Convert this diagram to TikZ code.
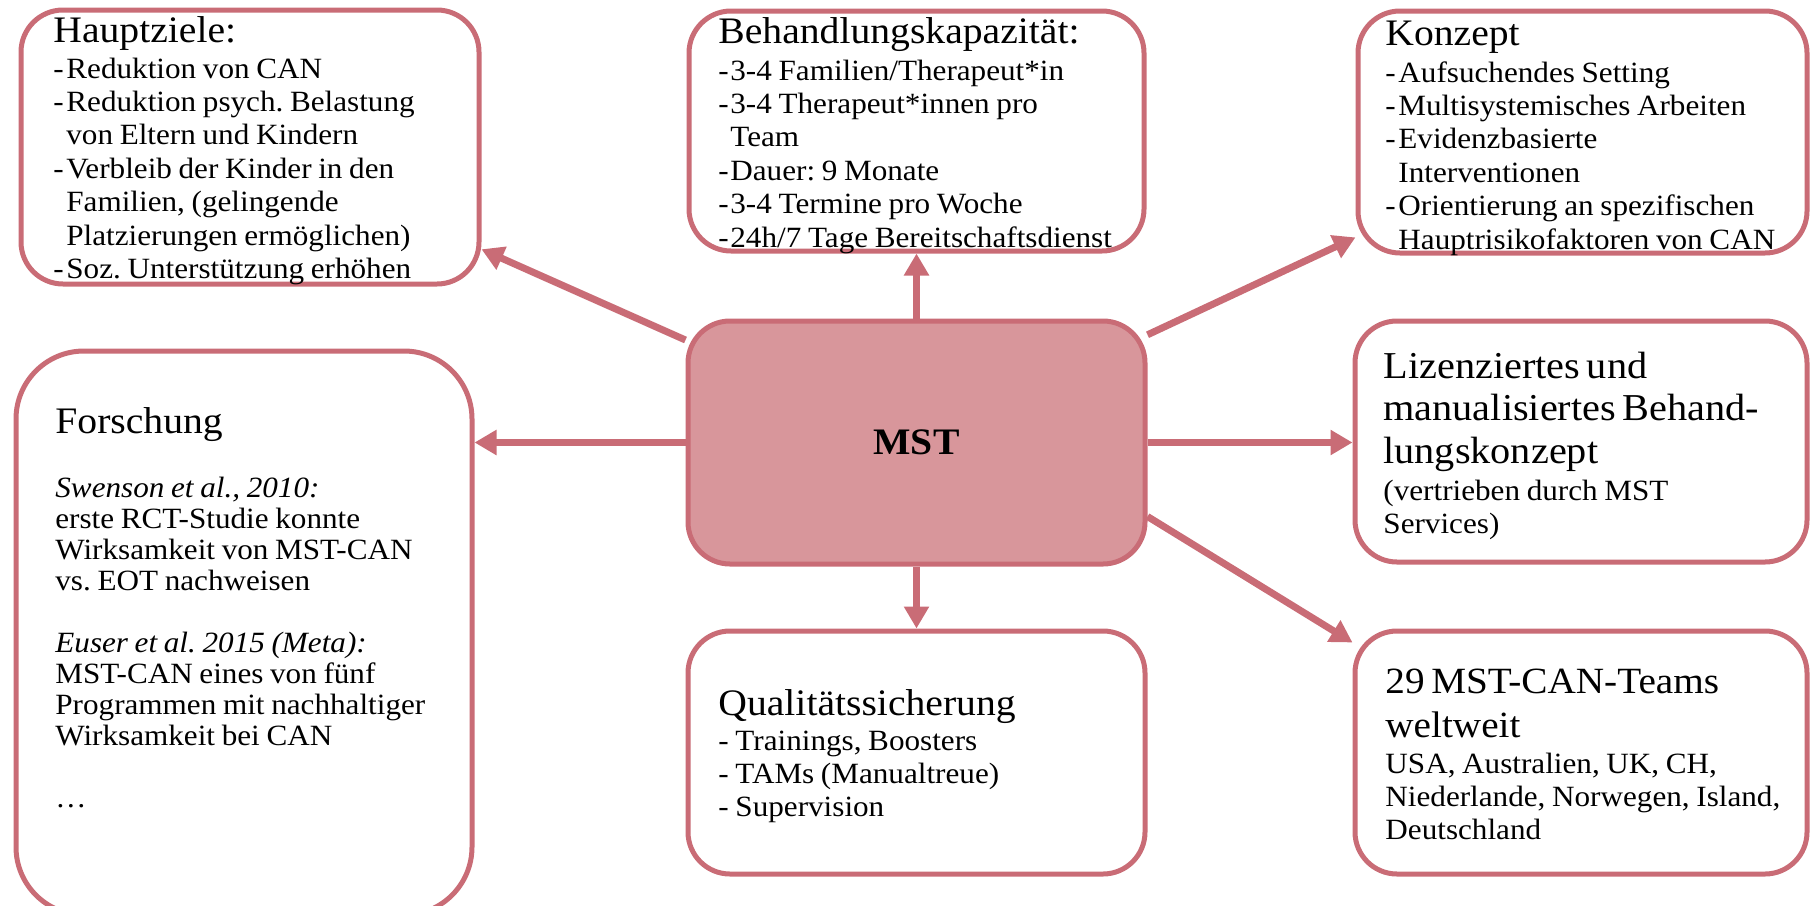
\documentclass[tikz,border=0pt]{standalone}
\usepackage{fontspec}
\setmainfont[FakeStretch=1.06]{Liberation Serif}
\usetikzlibrary{arrows.meta,calc}
\definecolor{rosa}{RGB}{201,108,118}
\definecolor{rosafill}{RGB}{216,150,155}
\newcommand\dsh{\makebox[6.5pt][l]{-}}
\newcommand\ind{\hspace*{6.5pt}}
\newcommand\ttl{\fontsize{18.7}{21}\selectfont}
\newcommand\bdy{\fontsize{14.7}{16.7}\selectfont}
\tikzset{
  box/.style={draw=rosa, line width=2.5pt, fill=white, rounded corners=21pt, inner sep=0pt},
  txt/.style={anchor=base west, inner sep=0pt, align=left, text width=225pt,
    execute at begin node={\frenchspacing\lineskiplimit=-100pt\lineskip=0pt}},
  arr/.style={draw=rosa, line width=3.5pt, -{Triangle[width=12pt,length=11pt]}},
}
\begin{document}
\begin{tikzpicture}[x=0.5pt,y=-0.5pt]
\useasboundingbox (0,0) rectangle (1813,905);
% boxes
\node[box, minimum width=229pt, minimum height=137pt] (hz) at (250,147) {};
\node[box, minimum width=227.5pt, minimum height=120pt] (bk) at (916.5,131) {};
\node[box, minimum width=224.5pt, minimum height=121pt] (kz) at (1582.5,132) {};
\node[box, minimum width=228pt, minimum height=282pt, rounded corners=34pt] (fo) at (244,633) {};
\node[box, fill=rosafill, minimum width=228.5pt, minimum height=121.5pt, font=\fontsize{18.7}{20}\selectfont\bfseries] (mst) at (916.5,442.5) {MST};
\node[box, minimum width=226pt, minimum height=120.5pt] (li) at (1581,441.5) {};
\node[box, minimum width=228.5pt, minimum height=121.5pt] (qs) at (916.5,752.5) {};
\node[box, minimum width=226pt, minimum height=121.5pt] (tm) at (1581,752.5) {};
% texts
\node[txt] (hzt) at (53,42) {\ttl Hauptziele:\par\vspace{1.3pt}\bdy
\dsh Reduktion von CAN\\
\dsh Reduktion psych. Belastung\\
\ind von Eltern und Kindern\\
\dsh Verbleib der Kinder in den\\
\ind Familien, (gelingende\\
\ind Platzierungen ermöglichen)\\
\dsh Soz. Unterstützung erhöhen\par};
\node[txt] (bkt) at (718,43) {\ttl Behandlungskapazität:\par\vspace{1.8pt}\bdy
\makebox[6pt][l]{-}3-4 Familien/Therapeut*in\\
\makebox[6pt][l]{-}3-4 Therapeut*innen pro\\
\hspace*{6pt}Team\\
\makebox[6pt][l]{-}Dauer: 9 Monate\\
\makebox[6pt][l]{-}3-4 Termine pro Woche\\
\makebox[6pt][l]{-}24h/7 Tage Bereitschaftsdienst\par};
\node[txt] (kzt) at (1385,45) {\ttl Konzept\par\vspace{1.8pt}\bdy
\dsh Aufsuchendes Setting\\
\dsh Multisystemisches Arbeiten\\
\dsh Evidenzbasierte\\
\ind Interventionen\\
\dsh Orientierung an spezifischen\\
\ind Hauptrisikofaktoren von CAN\par};
\node[txt] (fot) at (55,433) {\ttl Forschung\par\vspace{16.5pt}\fontsize{14.7}{15.5}\selectfont
\textit{Swenson et al., 2010:}\\
erste RCT-Studie konnte\\
Wirksamkeit von MST-CAN\\
vs. EOT nachweisen\\[15.5pt]
\textit{Euser et al. 2015 (Meta):}\\
MST-CAN eines von fünf\\
Programmen mit nachhaltiger\\
Wirksamkeit bei CAN\\[15.5pt]
\dots\par};
\node[txt] (lit) at (1383,378) {\fontsize{19}{21.3}\selectfont Lizenziertes und\\
manualisiertes Behand-\\
lungskonzept\par\vspace{1.8pt}\bdy
(vertrieben durch MST\\
Services)\par};
\node[txt] (qst) at (718,715) {\ttl Qualitätssicherung\par\vspace{0.8pt}\bdy
- Trainings, Boosters\\
- TAMs (Manualtreue)\\
- Supervision\par};
\node[txt] (tmt) at (1385,693) {\fontsize{18.5}{22}\selectfont 29 MST-CAN-Teams\\
weltweit\par\vspace{1.3pt}\bdy
USA, Australien, UK, CH,\\
Niederlande, Norwegen, Island,\\
Deutschland\par};
% arrows
\draw[arr] (mst) -- (hz);
\draw[arr] (mst) -- (bk);
\draw[arr] (mst) -- (kz);
\draw[arr] (mst.west) -- (mst.west -| fo.east);
\draw[arr] (mst.east) -- (mst.east -| li.west);
\draw[arr] (mst) -- (qs);
\draw[arr] ($(mst.east)+(0,74)$) -- ($(tm.west)+(0,-110)$);
\end{tikzpicture}
\end{document}
